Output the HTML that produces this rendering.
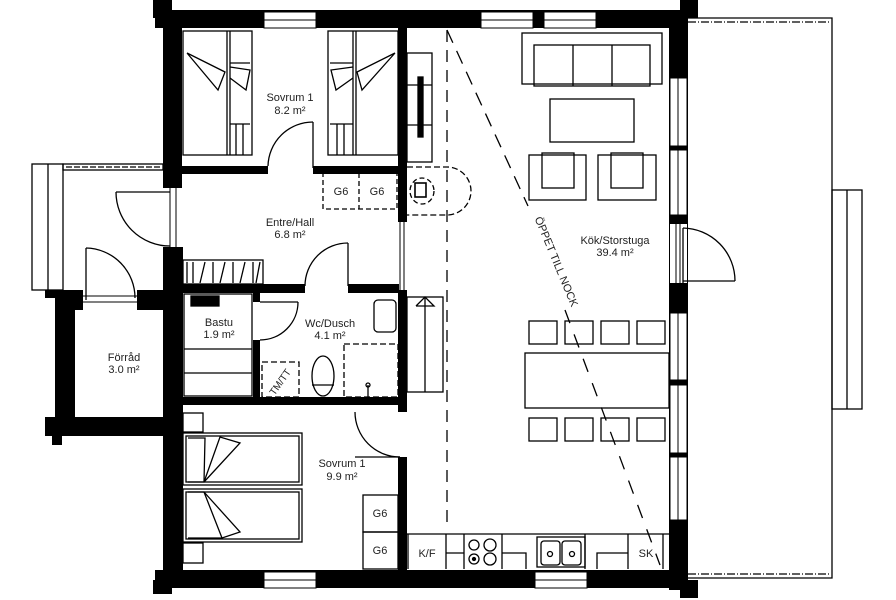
<!DOCTYPE html>
<html><head><meta charset="utf-8"><style>
html,body{margin:0;padding:0;background:#fff}
svg{display:block}
text{font-family:"Liberation Sans Narrow","Liberation Sans",sans-serif;font-size:11px;fill:#222;text-anchor:middle}
</style></head><body>
<svg width="896" height="600" viewBox="0 0 896 600" xmlns="http://www.w3.org/2000/svg">
<g fill="#000">
<!-- outer walls -->
<rect x="155" y="10" width="533" height="18"/>
<rect x="153" y="0" width="19" height="18"/>
<rect x="680" y="0" width="18" height="18"/>
<rect x="163" y="10" width="19" height="178"/>
<rect x="163" y="247" width="20" height="341"/>
<rect x="155" y="570" width="533" height="18"/>
<rect x="153" y="580" width="19" height="14"/>
<rect x="669" y="10" width="19" height="580"/>
<rect x="680" y="580" width="18" height="18"/>
<!-- förråd walls -->
<rect x="55" y="290" width="20" height="146"/>
<rect x="45" y="417" width="130" height="19"/>
<rect x="52" y="427" width="10" height="18"/>
<rect x="55" y="290" width="28" height="20"/>
<rect x="45" y="290" width="12" height="8"/>
<rect x="137" y="290" width="30" height="20"/>
<!-- interior walls -->
<rect x="182" y="166" width="86" height="8"/>
<rect x="313" y="166" width="90" height="8"/>
<rect x="398" y="28" width="9" height="194"/>
<rect x="398" y="290" width="9" height="122"/>
<rect x="398" y="457" width="9" height="113"/>
<rect x="182" y="284" width="123" height="9"/>
<rect x="348" y="284" width="55" height="9"/>
<rect x="253" y="290" width="7" height="12"/>
<rect x="253" y="340" width="7" height="60"/>
<rect x="182" y="397" width="225" height="8"/>
</g>
<!-- windows -->
<g fill="#fff" stroke="#000" stroke-width="1">
<rect x="264" y="12" width="52" height="16"/>
<rect x="481" y="12" width="52" height="16"/>
<rect x="544" y="12" width="52" height="16"/>
<rect x="264" y="572" width="52" height="16"/>
<rect x="535" y="572" width="52" height="16"/>
<rect x="670" y="78" width="17" height="68"/>
<rect x="670" y="150" width="17" height="65"/>
<rect x="670" y="313" width="17" height="67"/>
<rect x="670" y="385" width="17" height="68"/>
<rect x="670" y="457" width="17" height="63"/>
<rect x="670" y="224" width="17" height="59" stroke="none"/>
<rect x="166" y="188" width="12" height="59" stroke="none"/>
<rect x="83" y="292" width="54" height="16" stroke="none"/>
<rect x="399" y="222" width="7" height="68" stroke="none"/>
</g>
<g stroke="#000" stroke-width="1" fill="none">
<line x1="264" y1="20" x2="316" y2="20"/><line x1="481" y1="20" x2="533" y2="20"/><line x1="544" y1="20" x2="596" y2="20"/>
<line x1="264" y1="580" x2="316" y2="580"/><line x1="535" y1="580" x2="587" y2="580"/>
<line x1="678" y1="78" x2="678" y2="215"/><line x1="678" y1="313" x2="678" y2="520"/>
<line x1="676" y1="224" x2="676" y2="283"/><line x1="680" y1="224" x2="680" y2="283"/>
<line x1="170" y1="188" x2="170" y2="247"/><line x1="176" y1="188" x2="176" y2="247"/>
<line x1="400" y1="222" x2="400" y2="290"/><line x1="404" y1="222" x2="404" y2="290"/>
<line x1="83" y1="296" x2="137" y2="296"/><line x1="83" y1="302" x2="137" y2="302"/>
</g>
<g fill="#000"><rect x="533" y="10" width="11" height="18"/><rect x="669" y="146" width="19" height="4"/><rect x="669" y="380" width="19" height="5"/><rect x="669" y="453" width="19" height="4"/></g>
<g stroke="#000" stroke-width="1.3" fill="none">
<!-- porch -->
<rect x="32" y="164" width="31" height="126"/><line x1="48" y1="164" x2="48" y2="290"/>
<rect x="63" y="164" width="100" height="6"/><line x1="66" y1="167" x2="160" y2="167" stroke-dasharray="6 2"/>
<!-- deck -->
<polyline points="688,18 832,18 832,578 688,578"/>
<line x1="688" y1="22" x2="830" y2="22" stroke-dasharray="8 2 1 2"/>
<line x1="688" y1="574" x2="830" y2="574" stroke-dasharray="8 2 1 2"/>
<rect x="832" y="190" width="30" height="219"/><line x1="847" y1="190" x2="847" y2="409"/>
<!-- doors -->
<line x1="170" y1="192" x2="116" y2="192"/><path d="M116,192 A54,54 0 0 0 170,246"/>
<line x1="86" y1="248" x2="86" y2="300"/><path d="M86,248 A50,50 0 0 1 135,298"/>
<line x1="313" y1="122" x2="313" y2="168"/><path d="M313,122 A45,45 0 0 0 268,166"/>
<line x1="348" y1="243" x2="348" y2="286"/><path d="M348,243 A43,43 0 0 0 305,286"/>
<line x1="260" y1="302" x2="298" y2="302"/><path d="M298,302 A38,38 0 0 1 260,340"/>
<line x1="400" y1="457" x2="355" y2="457"/><path d="M355,412 A45,45 0 0 0 400,457"/>
<line x1="683" y1="228" x2="683" y2="283"/><path d="M683,228 A53,53 0 0 1 735,281"/><line x1="683" y1="281" x2="735" y2="281"/>
<!-- bunk beds -->
<rect x="183" y="31" width="69" height="124"/><line x1="227" y1="31" x2="227" y2="155"/><line x1="230" y1="31" x2="230" y2="155"/>
<line x1="230" y1="63" x2="250" y2="63"/><line x1="230" y1="124" x2="250" y2="124"/>
<line x1="236" y1="124" x2="236" y2="155"/><line x1="243" y1="124" x2="243" y2="155"/>
<polyline points="187,53 225,72 218,90 187,53"/><polyline points="230,67 250,70 246,90 230,78"/>
<rect x="328" y="31" width="70" height="124"/><line x1="353" y1="31" x2="353" y2="155"/><line x1="356" y1="31" x2="356" y2="155"/>
<line x1="330" y1="63" x2="353" y2="63"/><line x1="330" y1="124" x2="353" y2="124"/>
<line x1="337" y1="124" x2="337" y2="155"/><line x1="344" y1="124" x2="344" y2="155"/>
<polyline points="395,53 357,72 362,90 395,53"/><polyline points="353,67 331,70 336,90 353,78"/>
<!-- G6 dashed -->
<rect x="323" y="173" width="74" height="36" stroke-dasharray="5 3"/><line x1="359" y1="173" x2="359" y2="209" stroke-dasharray="5 3"/>
<!-- shoe rack -->
<rect x="183" y="260" width="80" height="24"/>
<line x1="187" y1="262" x2="187" y2="283"/><line x1="193" y1="262" x2="193" y2="283"/><line x1="205" y1="262" x2="200" y2="283"/><line x1="213" y1="262" x2="213" y2="283"/><line x1="225" y1="262" x2="220" y2="283"/><line x1="233" y1="262" x2="233" y2="283"/><line x1="245" y1="262" x2="240" y2="283"/><line x1="253" y1="262" x2="253" y2="283"/><line x1="260" y1="262" x2="256" y2="283"/>
<!-- bastu -->
<rect x="184" y="294" width="68" height="102"/><line x1="184" y1="349" x2="252" y2="349"/><line x1="184" y1="373" x2="252" y2="373"/>
<rect x="191" y="296" width="28" height="10" fill="#000"/>
<!-- wc -->
<rect x="374" y="300" width="22" height="32" rx="4"/>
<rect x="344" y="344" width="54" height="53" stroke-dasharray="6 3"/>
<rect x="262" y="362" width="37" height="35" stroke-dasharray="6 3"/>
<ellipse cx="323" cy="376" rx="11" ry="20"/><line x1="312" y1="385" x2="334" y2="385"/>
<line x1="368" y1="385" x2="368" y2="397"/><circle cx="368" cy="385" r="2"/>
<!-- sovrum 2 -->
<rect x="183" y="413" width="20" height="19"/><rect x="183" y="543" width="20" height="20"/>
<rect x="183" y="433" width="119" height="52"/><rect x="186" y="436" width="113" height="46"/>
<rect x="183" y="489" width="119" height="53"/><rect x="186" y="492" width="113" height="47"/>
<polyline points="188,438 205,438 204,482 188,482"/><polyline points="204,482 220,437 240,443 204,482"/>
<polyline points="188,492 204,492 222,538 188,538"/><polyline points="204,492 240,532 222,538"/>
<rect x="363" y="495" width="35" height="37"/><rect x="363" y="532" width="35" height="37"/>
<!-- living -->
<rect x="407" y="53" width="25" height="109"/><line x1="407" y1="85" x2="432" y2="85"/><line x1="407" y1="125" x2="432" y2="125"/>
<rect x="418" y="77" width="5" height="60" fill="#000"/>
<path d="M407,167 H447 A24,24 0 0 1 447,215 H407" stroke-dasharray="6 3"/>
<ellipse cx="422" cy="191" rx="12" ry="13" stroke-dasharray="5 3"/>
<rect x="415" y="183" width="11" height="14" stroke-width="1.6"/>
<rect x="522" y="33" width="140" height="51"/><rect x="534" y="45" width="116" height="41"/><line x1="573" y1="45" x2="573" y2="86"/><line x1="612" y1="45" x2="612" y2="86"/>
<rect x="550" y="99" width="84" height="43"/>
<rect x="529" y="155" width="57" height="45"/><rect x="542" y="153" width="32" height="35"/>
<rect x="598" y="155" width="58" height="45"/><rect x="611" y="153" width="32" height="35"/>
<line x1="447" y1="30" x2="447" y2="525" stroke-dasharray="12 8"/>
<line x1="447" y1="30" x2="528" y2="206" stroke-dasharray="14 9"/>
<line x1="565" y1="310" x2="660" y2="565" stroke-dasharray="14 12"/>
<!-- stair -->
<rect x="407" y="297" width="36" height="95"/><line x1="425" y1="297" x2="425" y2="392"/><polyline points="416,306 425,297 434,306 416,306"/>
<!-- dining -->
<rect x="529" y="321" width="28" height="23"/><rect x="565" y="321" width="28" height="23"/><rect x="601" y="321" width="28" height="23"/><rect x="637" y="321" width="28" height="23"/>
<rect x="525" y="353" width="144" height="55"/>
<rect x="529" y="418" width="28" height="23"/><rect x="565" y="418" width="28" height="23"/><rect x="601" y="418" width="28" height="23"/><rect x="637" y="418" width="28" height="23"/>
<!-- kitchen -->
<line x1="407" y1="534" x2="669" y2="534"/>
<line x1="408" y1="534" x2="408" y2="569"/><line x1="446" y1="534" x2="446" y2="569"/><line x1="464" y1="534" x2="464" y2="569"/><line x1="502" y1="534" x2="502" y2="569"/><line x1="446" y1="553" x2="464" y2="553"/>
<circle cx="474" cy="545" r="5"/><circle cx="490" cy="545" r="6"/><circle cx="474" cy="559" r="5"/><circle cx="474" cy="559" r="1.5" fill="#000"/><circle cx="490" cy="559" r="6"/>
<polyline points="502,553 526,553 526,569"/>
<rect x="537" y="537" width="48" height="30"/><rect x="541" y="541" width="19" height="24" rx="3"/><rect x="562" y="541" width="19" height="24" rx="3"/>
<circle cx="550" cy="554" r="2.5"/><circle cx="572" cy="554" r="2.5"/>
<line x1="585" y1="534" x2="585" y2="569"/><polyline points="597,569 597,553 628,553"/><line x1="628" y1="534" x2="628" y2="569"/><line x1="663" y1="534" x2="663" y2="569"/>
</g>
<text x="290" y="101">Sovrum 1</text><text x="290" y="114">8.2 m²</text>
<text x="290" y="226">Entre/Hall</text><text x="290" y="238">6.8 m²</text>
<text x="219" y="326">Bastu</text><text x="219" y="338">1.9 m²</text>
<text x="330" y="327">Wc/Dusch</text><text x="330" y="339">4.1 m²</text>
<text x="124" y="361">Förråd</text><text x="124" y="373">3.0 m²</text>
<text x="342" y="467">Sovrum 1</text><text x="342" y="480">9.9 m²</text>
<text x="615" y="244">Kök/Storstuga</text><text x="615" y="256">39.4 m²</text>
<text x="380" y="517">G6</text><text x="380" y="554">G6</text>
<text x="341" y="195">G6</text><text x="377" y="195">G6</text>
<text x="427" y="557">K/F</text><text x="646" y="557">SK</text>
<text x="283" y="384" transform="rotate(-55 283 384)" style="font-size:10px">TM/TT</text>
<text x="553" y="263" transform="rotate(67.5 553 263)" style="font-size:11px">ÖPPET TILL NOCK</text>
</svg>
</body></html>
